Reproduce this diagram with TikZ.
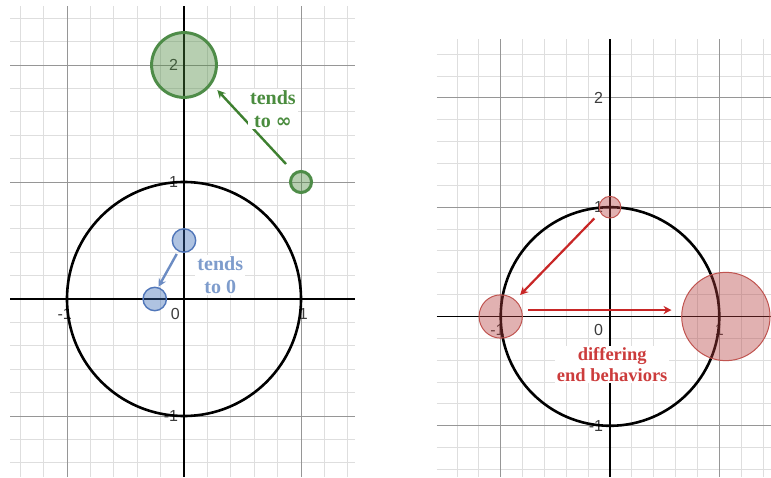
\documentclass[tikz,border=0pt]{standalone}
\usepackage{fontspec}
\setmainfont{Liberation Serif}
\setsansfont{Liberation Sans}
\newfontfamily\symfont{DejaVu Sans}
\usetikzlibrary{arrows.meta, positioning, calc}

\definecolor{minorgrid}{RGB}{222,222,222}
\definecolor{majorgrid}{RGB}{150,150,150}
\definecolor{ticktext}{RGB}{60,60,60}
\definecolor{gline}{RGB}{78,140,72}
\definecolor{gfill}{RGB}{75,137,62}
\definecolor{garrow}{RGB}{62,128,48}
\definecolor{gtext}{RGB}{74,140,62}
\definecolor{bline}{RGB}{80,118,185}
\definecolor{bfill}{RGB}{55,105,180}
\definecolor{barrow}{RGB}{108,140,195}
\definecolor{btext}{RGB}{126,156,204}
\definecolor{rline}{RGB}{192,84,80}
\definecolor{rfill}{RGB}{180,62,62}
\definecolor{rarrow}{RGB}{200,38,38}
\definecolor{rtext}{RGB}{204,60,60}

\begin{document}
\begin{tikzpicture}[
  x=1pt, y=1pt,
  >=Stealth,
  minorline/.style = {draw=minorgrid, line width=0.9pt},
  majorline/.style = {draw=majorgrid, line width=0.8pt},
  axisline/.style  = {draw=black, line width=1.5pt},
  unitcirc/.style  = {draw=black, line width=2.6pt},
  ticklabel/.style = {font=\sffamily\fontsize{16}{16}\selectfont,
                      text=ticktext, inner sep=1pt},
  greendot/.style  = {draw=gline, line width=3pt, fill=gfill, fill opacity=0.4},
  bluedot/.style   = {draw=bline, line width=1.4pt, fill=bfill, fill opacity=0.4},
  reddot/.style    = {draw=rline, line width=1pt, fill=rfill, fill opacity=0.4},
  arr/.style       = {-{Stealth[length=8pt, width=8pt]}, line width=2.4pt},
  note/.style      = {fill=white, align=center, inner sep=2pt,
                      font=\bfseries\fontsize{20}{22.5}\selectfont},
]

\useasboundingbox[fill=white] (0,0) rectangle (771,477);

% =============================================
% LEFT PANEL
% =============================================
\begin{scope}[shift={(184,178)}, scale=117]
  \draw[minorline, step=0.2] (-1.487,-1.521) grid (1.462,2.504);
  \draw[majorline, step=1]   (-1.487,-1.521) grid (1.462,2.504);
  \draw[axisline] (-1.487,0) -- (1.462,0);
  \draw[axisline] (0,-1.521) -- (0,2.504);

  \node[ticklabel, anchor=east]       (ly2)  at (-0.04,2)       {2};
  \node[ticklabel, anchor=east]       (ly1)  at (-0.04,1)       {1};
  \node[ticklabel, anchor=east]       (lym1) at (-0.04,-1)      {-1};
  \node[ticklabel, anchor=north east] (l0)   at (-0.026,-0.068) {0};
  \node[ticklabel, anchor=north]      (lxm1) at (-1.02,-0.068)  {-1};
  \node[ticklabel, anchor=north]      (lx1)  at (1.02,-0.068)   {1};

  \draw[unitcirc] (0,0) circle (1);

  \draw[greendot] (0,2) circle (0.277);
  \draw[greendot] (1,1) circle (0.09);
  \draw[bluedot]  (0,0.5) circle (0.1);
  \draw[bluedot]  (-0.25,0) circle (0.1);

  \coordinate (gfrom) at (0.872,1.154);
  \coordinate (gto)   at (0.285,1.786);
  \coordinate (bfrom) at (-0.062,0.385);
  \coordinate (bto)   at (-0.218,0.105);
  \draw[arr, garrow] (gfrom) -- (gto);
  \draw[arr, barrow] (bfrom) -- (bto);

  \node[note, text=gtext] (tendsinf)  at (0.76,1.624)
       {tends\\to {\symfont\fontsize{19}{19}\selectfont ∞}};
  \node[note, text=btext] (tendszero) at (0.31,0.205) {tends\\to 0};
\end{scope}

% =============================================
% RIGHT PANEL
% =============================================
\begin{scope}[shift={(610,160.5)}, scale=109.3]
  \draw[minorline, step=0.2] (-1.583,-1.468) grid (1.473,2.539);
  \draw[majorline, step=1]   (-1.583,-1.468) grid (1.473,2.539);
  \draw[axisline] (-1.583,0) -- (1.473,0);
  \draw[axisline] (0,-1.468) -- (0,2.539);

  \node[ticklabel, anchor=east]       (ry2)  at (-0.052,2)      {2};
  \node[ticklabel, anchor=east]       (ry1)  at (-0.052,1)      {1};
  \node[ticklabel, anchor=east]       (rym1) at (-0.052,-1)     {-1};
  \node[ticklabel, anchor=north east] (r0)   at (-0.052,-0.062) {0};
  \node[ticklabel, anchor=north]      (rxm1) at (-1.03,-0.062)  {-1};
  \node[ticklabel, anchor=north]      (rx1)  at (1.0,-0.062)    {1};

  \draw[unitcirc] (0,0) circle (1);

  \draw[reddot] (0,1) circle (0.099);
  \draw[reddot] (-1,0) circle (0.198);
  \draw[reddot] (1.06,0) circle (0.404);

  \coordinate (dfrom) at (-0.144,0.898);
  \coordinate (dto)   at (-0.823,0.197);
  \coordinate (hfrom) at (-0.747,0.059);
  \coordinate (hto)   at (0.564,0.059);
  \draw[arr, rarrow, line width=2.2pt] (dfrom) -- (dto);
  \draw[arr, rarrow, line width=2.2pt] (hfrom) -- (hto);

  \node[note, text=rtext, font=\bfseries\fontsize{18.5}{20.5}\selectfont]
       (differ) at (0.02,-0.44) {differing\\end behaviors};
\end{scope}

\end{tikzpicture}
\end{document}
